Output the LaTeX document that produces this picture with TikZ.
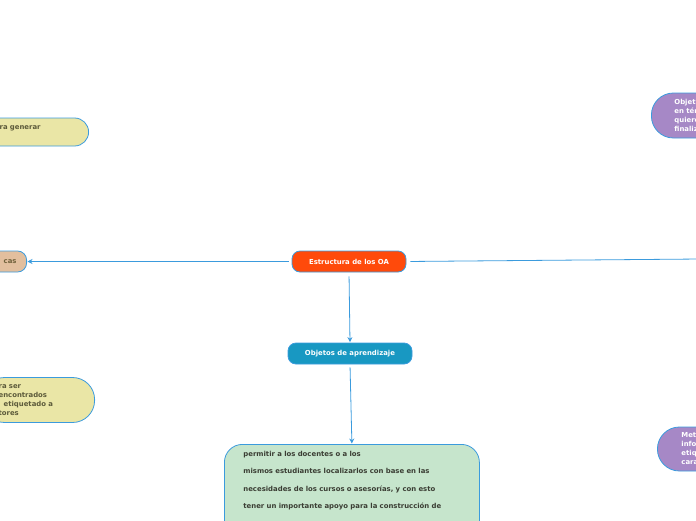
\documentclass[tikz,border=0pt]{standalone}
\usepackage{fontspec}
\setmainfont{DejaVu Sans}
\usetikzlibrary{arrows.meta,positioning}
\definecolor{OABorder}{HTML}{3B9BDD}
\definecolor{OAOrange}{HTML}{FF4A0B}
\definecolor{OATeal}{HTML}{1898C2}
\definecolor{OAGreen}{HTML}{C6E5CC}
\definecolor{OAYellow}{HTML}{EAE6A6}
\definecolor{OATan}{HTML}{E2BF9E}
\definecolor{OAPurple}{HTML}{A688C6}
\definecolor{OAText}{HTML}{3A3D33}
\definecolor{OAOlive}{HTML}{5C5A3A}
\tikzset{
  oabox/.style={draw=OABorder,line width=0.8pt,font=\fontsize{6.9}{9}\selectfont\bfseries,inner sep=0pt},
  mainbox/.style={oabox,rounded corners=8pt,text=white,minimum height=21pt,align=center},
  leafbox/.style={oabox,align=left,text=OAOlive},
  sidebox/.style={oabox,align=left,text=white,fill=OAPurple},
  linkarrow/.style={-{Stealth[length=5pt,width=5pt]},line width=0.8pt,draw=OABorder,shorten <=3pt,shorten >=0.5pt},
  linkline/.style={line width=0.8pt,draw=OABorder,shorten <=4pt}
}
\begin{document}
\begin{tikzpicture}[x=1pt,y=-1pt]
\useasboundingbox (0,0) rectangle (696,520);
\clip (0,0) rectangle (696,520);
% central nodes
\node[mainbox,fill=OAOrange,minimum width=114pt] (estructura) at (349,261.5) {Estructura de los OA};
\node[mainbox,fill=OATeal,minimum width=124pt] (objetos) at (350,353.5) {Objetos de aprendizaje};
\node[oabox,fill=OAGreen,rounded corners=18pt,anchor=north west,text width=217pt,inner xsep=19pt,inner ysep=6.5pt,align=left,text=OAText,font=\fontsize{6.9}{17.5}\selectfont\bfseries] (detalle) at (224,444)
  {permitir a los docentes o a los\\
   mismos estudiantes localizarlos con base en las\\
   necesidades de los cursos o asesorías, y con esto\\
   tener un importante apoyo para la construcción de\par\vspace*{60pt}};
% left side
\node[leafbox,fill=OAYellow,rounded corners=14pt,anchor=east,minimum height=28pt,text width=75pt,inner xsep=16pt] (generar) at (89,132) {\hspace*{2pt}ra generar\\ \mbox{}};
\node[oabox,fill=OATan,rounded corners=9pt,anchor=east,minimum height=21pt,text width=50pt,inner xsep=10pt,align=right,text=OAOlive!80!brown] (caracteristicas) at (27,261.5) {cas};
\node[leafbox,fill=OAYellow,rounded corners=22pt,anchor=east,minimum height=45pt,text width=80pt,inner xsep=16pt] (encontrados) at (95,400) {ra ser\\encontrados\\\hspace*{5pt}etiquetado a\\tores};
% right side
\node[sidebox,rounded corners=22pt,anchor=west,minimum height=45pt,text width=60pt,inner xsep=23pt] (objetivos) at (651,115.5) {Objet\\en tér\\quiere\\finaliz};
\node[sidebox,rounded corners=22pt,anchor=west,minimum height=44pt,text width=60pt,inner xsep=24pt] (metadatos) at (657,449) {Met\\info\\etiq\\cara};
\coordinate (offright) at (700,259);
% connectors
\draw[linkarrow] (estructura.west) -- (caracteristicas.east);
\draw[linkline] (estructura.east) -- (offright);
\draw[linkarrow,shorten <=4pt] (estructura.south) -- (objetos.north);
\draw[linkarrow] (objetos.south) -- (detalle.north);
\end{tikzpicture}
\end{document}
